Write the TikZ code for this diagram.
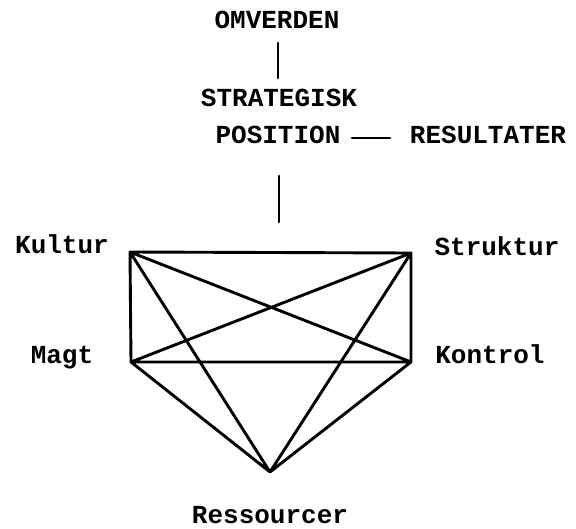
\documentclass[tikz,border=0pt]{standalone}
\usepackage{fontspec}
\setmonofont{Liberation Mono}
\begin{document}
\begin{tikzpicture}[x=1pt,y=-1pt,
  lbl/.style={font=\fontsize{26}{28}\selectfont\ttfamily\bfseries, inner sep=0pt, text height=1.6ex, text depth=0pt},
  edge/.style={line width=2.9pt, line cap=round, line join=round}]
\useasboundingbox (0,0) rectangle (576,528);
% labels
\node[lbl] (om) at (277,25) {OMVERDEN};
\node[lbl] (strat) at (279,103) {STRATEGISK};
\node[lbl] (pos) at (278,140) {POSITION};
\node[lbl] (res) at (488,140) {RESULTATER};
\node[lbl] (kul) at (62,250) {Kultur};
\node[lbl] (stru) at (497,252) {Struktur};
\node[lbl] (magt) at (62,360) {Magt};
\node[lbl] (kon) at (490,360) {Kontrol};
\node[lbl] (ress) at (270,520) {Ressourcer};
% vertices
\coordinate (K) at (130,252);
\coordinate (S) at (411,253);
\coordinate (M) at (131,362);
\coordinate (C) at (411,362);
\coordinate (R) at (270,472);
% top connectors
\coordinate (a1) at (278,43);
\coordinate (a2) at (278,78);
\coordinate (b1) at (352,138);
\coordinate (b2) at (390,138);
\coordinate (c1) at (279,176);
\coordinate (c2) at (279,222);
\draw[edge] (a1) -- (a2);
\draw[edge] (b1) -- (b2);
\draw[edge] (c1) -- (c2);
% complete graph
\draw[edge] (K) -- (S) (K) -- (M) (K) -- (C) (K) -- (R)
            (S) -- (M) (S) -- (C) (S) -- (R)
            (M) -- (C) (M) -- (R)
            (C) -- (R);
\end{tikzpicture}
\end{document}
